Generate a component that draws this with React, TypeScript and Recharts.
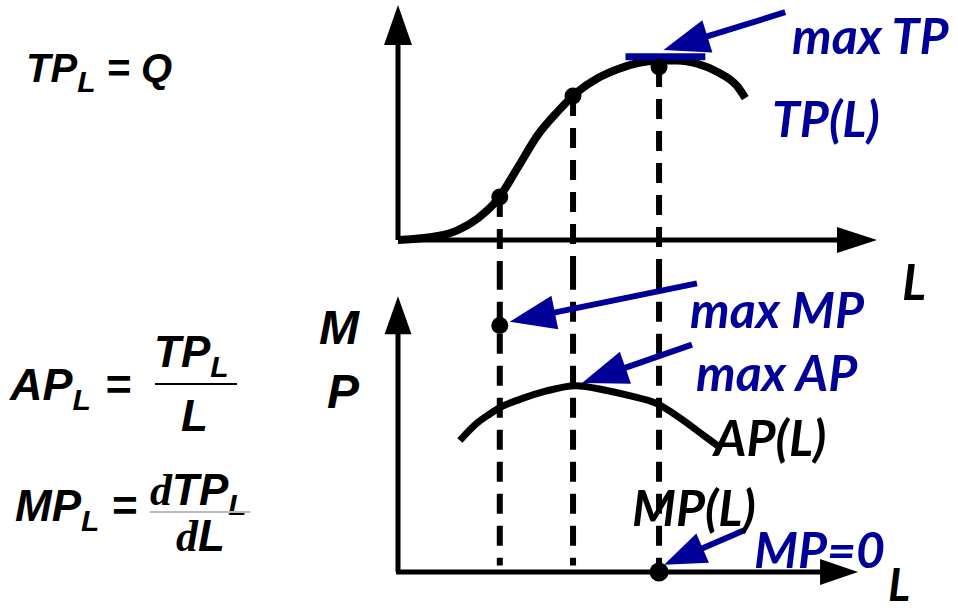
import React from 'react';
import {
  ComposedChart,
  Line,
  XAxis,
  YAxis,
  ReferenceLine,
  ReferenceDot,
} from 'recharts';

// labour input (L) and total product
const tpLabor = [0, 2, 3, 4, 5, 6, 7, 8, 9, 10, 11, 12, 13, 14, 15, 16, 17, 17.4];
const tpValues = [0, 2.2, 5.5, 12, 22.5, 40, 58, 71, 82, 89.5, 94.5, 97.8, 99.3, 99.3, 97.5, 93, 85, 78.5];

// average product
const apLabor = [3.1, 3.9, 4.6, 5.1, 6.1, 7.4, 8.9, 10.4, 11.6, 13, 14.1, 15.1, 16.1];
const apValues = [14.4, 16.2, 17.3, 18, 18.9, 19.8, 20.4, 19.9, 19.3, 18.4, 16.9, 15.3, 13.7];

// key points: inflection (max MP), max AP, max TP (MP = 0)
const keyLabor = [5.1, 8.77, 13.08];
const keyTP = [23.8, 79.7, 95.7];
const maxMP = 27;

const BLUE = '#000099';
const LABEL_FONT = 'Lato, "Open Sans", sans-serif';
const FORMULA_FONT = '"Liberation Sans", Arial, sans-serif';

const tpData = tpLabor.map((L, i) => ({ L, tp: tpValues[i] }));
const apData = apLabor.map((L, i) => ({ L, ap: apValues[i] }));

const arrowShape =
  (color: string, width: number, headLen: number, headW: number) =>
  (props: any) => {
    const { x1, y1, x2, y2 } = props;
    const dx = x2 - x1;
    const dy = y2 - y1;
    const len = Math.sqrt(dx * dx + dy * dy) || 1;
    const ux = dx / len;
    const uy = dy / len;
    const bx = x2 - ux * headLen;
    const by = y2 - uy * headLen;
    const px = -uy * (headW / 2);
    const py = ux * (headW / 2);
    return (
      <g>
        <line x1={x1} y1={y1} x2={bx + ux * 2} y2={by + uy * 2} stroke={color} strokeWidth={width} />
        <polygon
          points={`${x2},${y2} ${bx + px},${by + py} ${bx - px},${by - py}`}
          fill={color}
        />
      </g>
    );
  };

const dashShape = (props: any) => (
  <line
    x1={props.x1}
    y1={props.y1}
    x2={props.x2}
    y2={props.y2}
    stroke="#000"
    strokeWidth={6}
    strokeDasharray="20 12"
  />
);

const barShape = (props: any) => (
  <line x1={props.x1} y1={props.y1} x2={props.x2} y2={props.y2} stroke={BLUE} strokeWidth={7} />
);

const labelStyle: React.CSSProperties = {
  position: 'absolute',
  fontFamily: LABEL_FONT,
  fontWeight: 700,
  fontStyle: 'italic',
  fontSize: 50,
  lineHeight: 1,
  whiteSpace: 'nowrap',
};

const formulaStyle: React.CSSProperties = {
  position: 'absolute',
  fontFamily: FORMULA_FONT,
  fontWeight: 700,
  fontStyle: 'italic',
  fontSize: 40,
  lineHeight: 1,
  whiteSpace: 'nowrap',
  color: '#000',
};

const sub: React.CSSProperties = { fontSize: 30, position: 'relative', top: 10 };
const serifD: React.CSSProperties = { fontFamily: '"Liberation Serif", serif', fontWeight: 700 };

function TopPanel() {
  return (
    <ComposedChart
      width={958}
      height={270}
      data={tpData}
      margin={{ top: 5, right: 81, bottom: 30, left: 398 }}
      style={{ position: 'absolute', left: 0, top: 0 }}
    >
      <XAxis type="number" dataKey="L" domain={[0, 24]} hide />
      <YAxis type="number" domain={[0, 130]} hide />
      <ReferenceLine
        segment={[{ x: 0, y: 0 }, { x: 0, y: 130 }]}
        ifOverflow="visible"
        shape={arrowShape('#000', 5, 40, 28)}
      />
      <ReferenceLine
        segment={[{ x: 0, y: 0 }, { x: 24, y: 0 }]}
        ifOverflow="visible"
        shape={arrowShape('#000', 5, 40, 26)}
      />
      {keyLabor.map((L, i) => (
        <ReferenceLine
          key={`tpd-${i}`}
          segment={[{ x: L, y: keyTP[i] }, { x: L, y: -16.6 }]}
          ifOverflow="visible"
          shape={dashShape}
        />
      ))}
      <Line
        dataKey="tp"
        type="monotone"
        stroke="#000"
        strokeWidth={8}
        dot={false}
        isAnimationActive={false}
      />
      {keyLabor.map((L, i) => (
        <ReferenceDot key={`tpdot-${i}`} x={L} y={keyTP[i]} r={8.5} fill="#000" stroke="none" ifOverflow="visible" />
      ))}
      <ReferenceLine
        segment={[{ x: 11.4, y: 101.4 }, { x: 15.4, y: 101.4 }]}
        ifOverflow="visible"
        shape={barShape}
      />
      <ReferenceLine
        segment={[{ x: 19.4, y: 126 }, { x: 13.3, y: 105.1 }]}
        ifOverflow="visible"
        shape={arrowShape(BLUE, 6, 46, 34)}
      />
    </ComposedChart>
  );
}

function BottomPanel() {
  return (
    <ComposedChart
      width={958}
      height={345}
      data={apData}
      margin={{ top: 28, right: 81, bottom: 43, left: 398 }}
      style={{ position: 'absolute', left: 0, top: 270 }}
    >
      <XAxis type="number" dataKey="L" domain={[0, 24]} hide />
      <YAxis type="number" domain={[0, 30]} hide />
      <ReferenceLine
        segment={[{ x: 0, y: 0 }, { x: 0, y: 30.2 }]}
        ifOverflow="visible"
        shape={arrowShape('#000', 5, 38, 27)}
      />
      <ReferenceLine
        segment={[{ x: -0.1, y: 0 }, { x: 23.05, y: 0 }]}
        ifOverflow="visible"
        shape={arrowShape('#000', 5, 38, 26)}
      />
      {keyLabor.map((L, i) => (
        <ReferenceLine
          key={`apd-${i}`}
          segment={[{ x: L, y: 33.1 }, { x: L, y: i === 2 ? 0 : 0.7 }]}
          ifOverflow="visible"
          shape={dashShape}
        />
      ))}
      <Line
        dataKey="ap"
        type="monotone"
        stroke="#000"
        strokeWidth={7}
        dot={false}
        isAnimationActive={false}
      />
      <ReferenceDot x={keyLabor[0]} y={maxMP} r={8.5} fill="#000" stroke="none" ifOverflow="visible" />
      <ReferenceDot x={keyLabor[2]} y={0} r={9.5} fill="#000" stroke="none" ifOverflow="visible" />
      <ReferenceLine
        segment={[{ x: 14.98, y: 31.6 }, { x: 5.6, y: 27.4 }]}
        ifOverflow="visible"
        shape={arrowShape(BLUE, 6, 46, 34)}
      />
      <ReferenceLine
        segment={[{ x: 14.73, y: 24.9 }, { x: 9.22, y: 20.7 }]}
        ifOverflow="visible"
        shape={arrowShape(BLUE, 6, 46, 34)}
      />
      <ReferenceLine
        segment={[{ x: 17.38, y: 4.6 }, { x: 13.33, y: 0.8 }]}
        ifOverflow="visible"
        shape={arrowShape(BLUE, 6, 42, 32)}
      />
    </ComposedChart>
  );
}

export default function App() {
  return (
    <div style={{ position: 'absolute', left: 0, top: 0, width: 958, height: 615, background: '#fff', overflow: 'hidden' }}>
      <TopPanel />
      <BottomPanel />

      {/* formulas */}
      <div style={{ ...formulaStyle, left: 26, top: 48 }}>
        TP<span style={sub}>L</span>{' '}={' '}Q
      </div>
      <div style={{ ...formulaStyle, left: 10, top: 362, fontSize: 45 }}>
        AP<span style={sub}>L</span>
        <span style={{ marginLeft: 14 }}>=</span>
      </div>
      <div style={{ ...formulaStyle, left: 154, top: 330, fontSize: 44 }}>
        TP<span style={sub}>L</span>
      </div>
      <div style={{ position: 'absolute', left: 155, top: 383, width: 82, height: 2, background: '#000' }} />
      <div style={{ ...formulaStyle, left: 181, top: 394, fontSize: 44 }}>L</div>
      <div style={{ ...formulaStyle, left: 15, top: 484, fontSize: 44 }}>
        MP<span style={sub}>L</span>
        <span style={{ marginLeft: 12 }}>=</span>
      </div>
      <div style={{ ...formulaStyle, left: 150, top: 468, fontSize: 44 }}>
        <span style={serifD}>d</span>TP<span style={sub}>L</span>
      </div>
      <div style={{ position: 'absolute', left: 150, top: 511, width: 100, height: 2, background: '#bbb' }} />
      <div style={{ ...formulaStyle, left: 176, top: 514, fontSize: 44 }}>
        <span style={serifD}>d</span>L
      </div>

      {/* axis labels */}
      <div style={{ ...formulaStyle, left: 319, top: 304, fontSize: 48 }}>M</div>
      <div style={{ ...formulaStyle, left: 327, top: 368, fontSize: 48 }}>P</div>
      <div style={{ ...labelStyle, left: 902, top: 256, color: '#000' }}>L</div>
      <div style={{ ...labelStyle, left: 888, top: 560, fontSize: 46, lineHeight: 1.05, color: '#000' }}>L</div>

      {/* annotations */}
      <div style={{ ...labelStyle, left: 792, top: 10, color: BLUE }}>max TP</div>
      <div style={{ ...labelStyle, left: 772, top: 93, color: BLUE }}>TP(L)</div>
      <div style={{ ...labelStyle, left: 690, top: 284, color: BLUE }}>max MP</div>
      <div style={{ ...labelStyle, left: 696, top: 347, color: BLUE }}>max AP</div>
      <div style={{ ...labelStyle, left: 714, top: 412, color: '#000' }}>AP(L)</div>
      <div style={{ ...labelStyle, left: 632, top: 482, color: '#000' }}>MP(L)</div>
      <div style={{ ...labelStyle, left: 754, top: 524, color: BLUE }}>MP=0</div>
    </div>
  );
}
